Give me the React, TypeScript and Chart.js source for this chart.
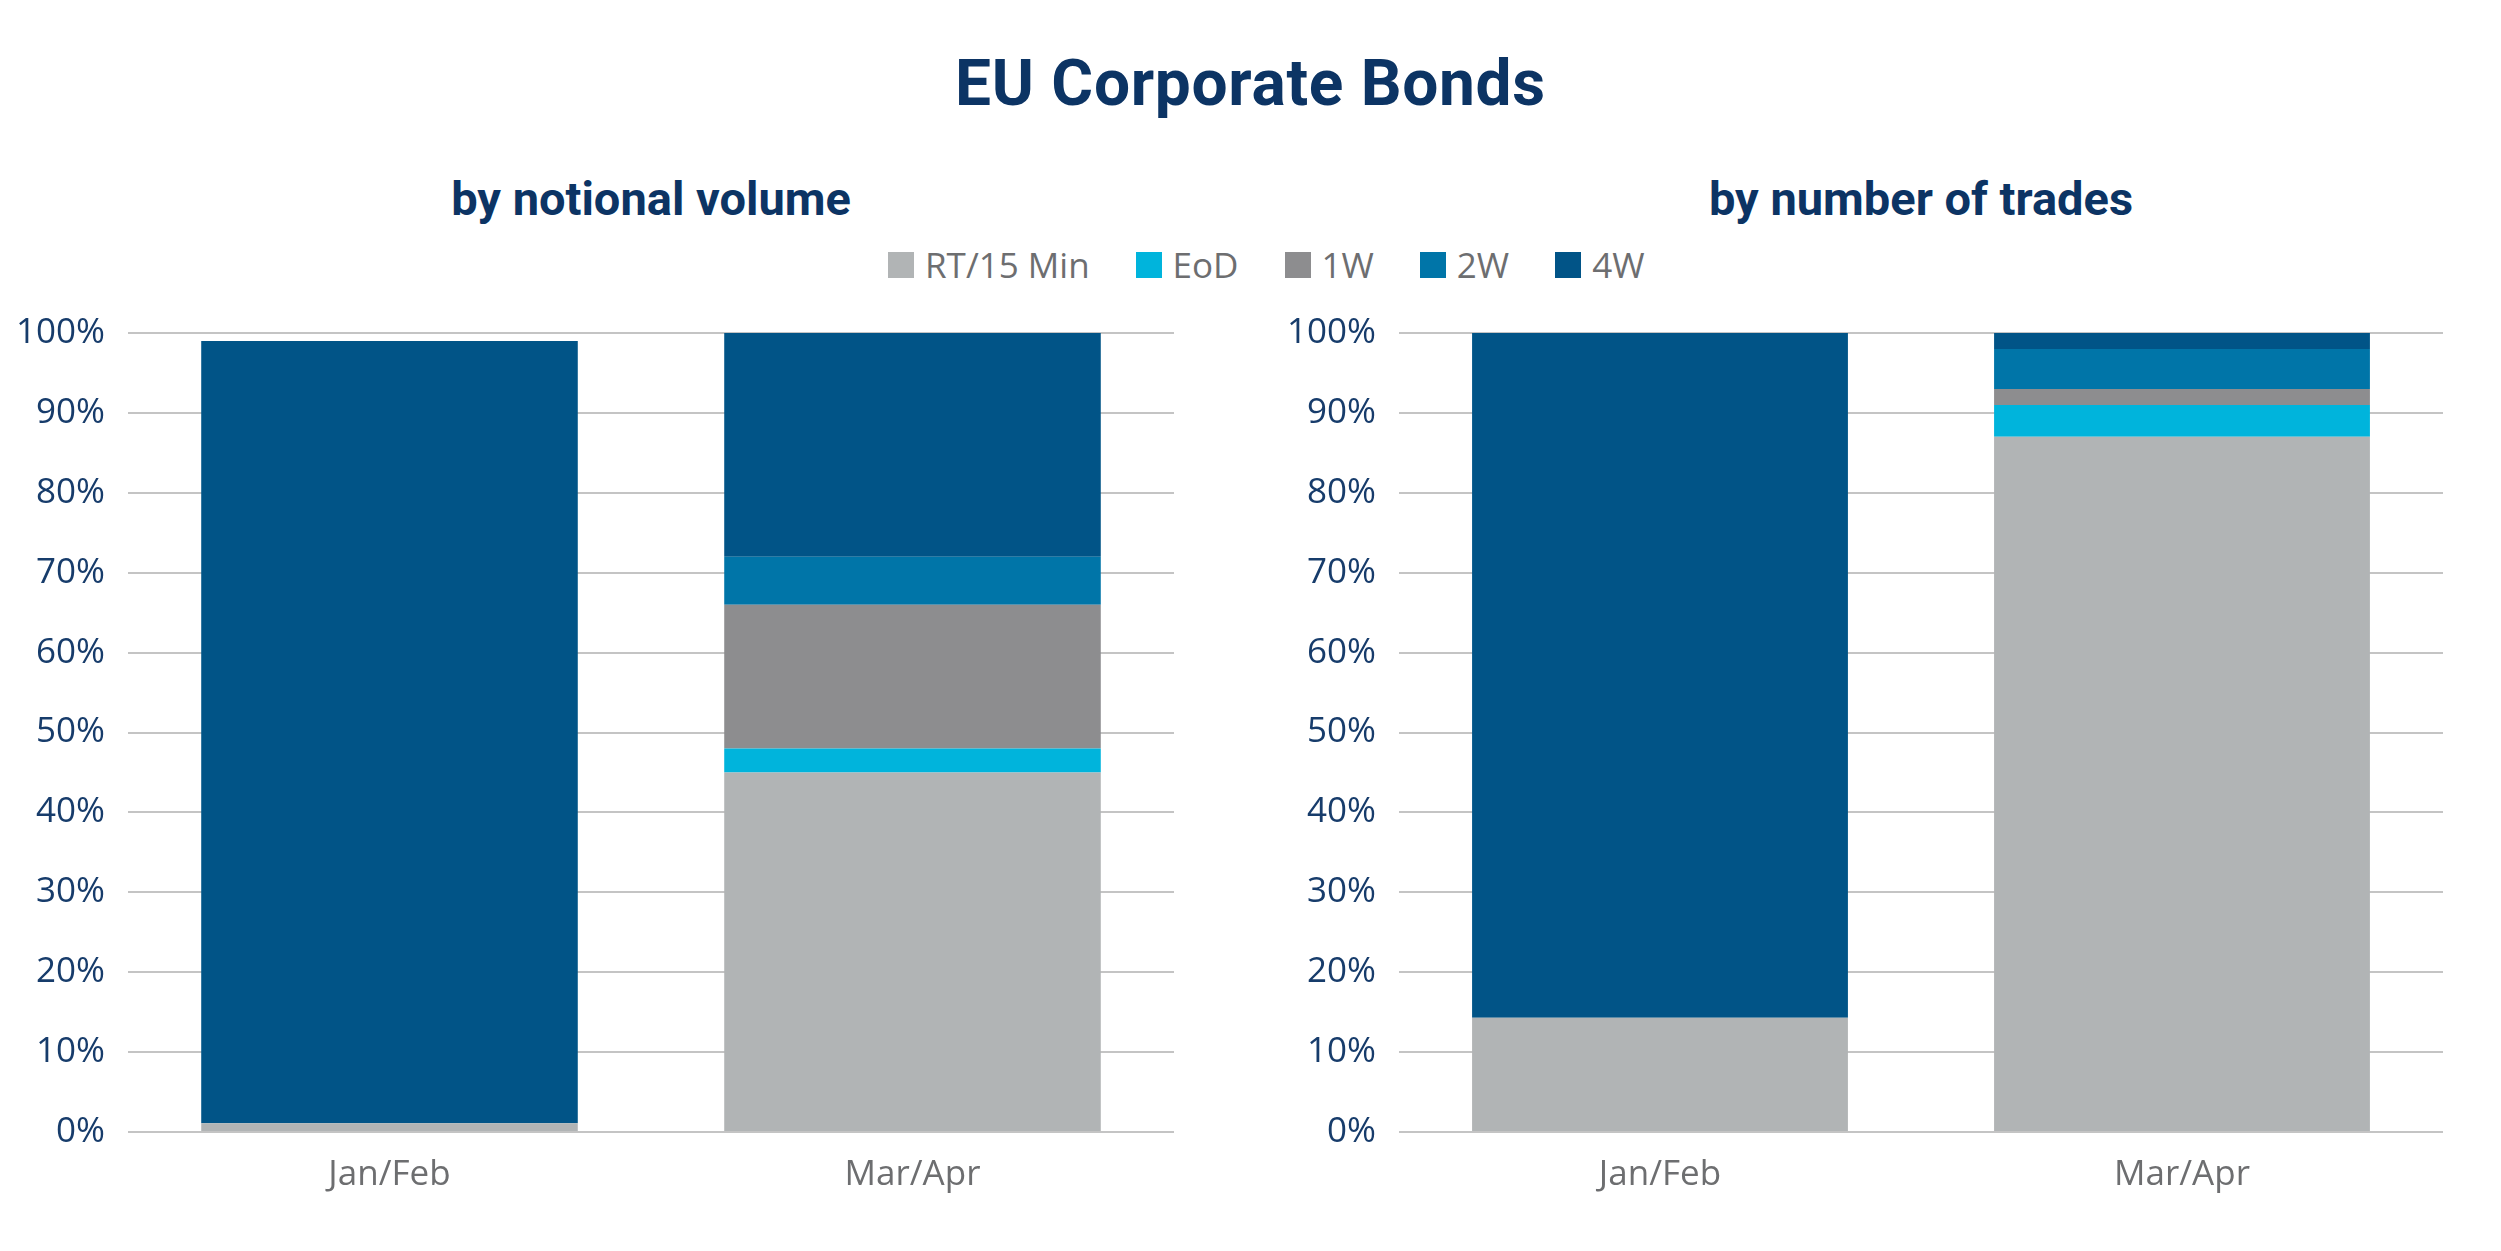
import React, { useEffect, useRef } from 'react';
import { Chart, registerables } from 'chart.js';

Chart.register(...registerables);

// Categories and series
const categories = ['Jan/Feb', 'Mar/Apr'];
const seriesNames = ['RT/15 Min', 'EoD', '1W', '2W', '4W'];
const seriesColors = ['#b1b4b5', '#00b4dc', '#8d8d8f', '#0075a8', '#015487'];

// Share of notional volume (%), per category
const volumeRT = [1.1, 45];
const volumeEoD = [0, 3];
const volume1W = [0, 18];
const volume2W = [0, 6];
const volume4W = [97.9, 28];

// Share of number of trades (%), per category
const tradesRT = [14.3, 87];
const tradesEoD = [0, 4];
const trades1W = [0, 2];
const trades2W = [0, 5];
const trades4W = [85.7, 2];

// Y axis ticks (%)
const yMin = 0;
const yMax = 100;
const yStep = 10;

const NAVY = '#0c3464';
const TICK_NAVY = '#173c6b';
const GREY_TEXT = '#6d6e70';

type PanelProps = {
  values: number[][];
  axisWidth: number;
  rightPad: number;
  width: number;
  height: number;
  left: number;
  top: number;
};

function StackedPanel({ values, axisWidth, rightPad, width, height, left, top }: PanelProps) {
  const ref = useRef<HTMLCanvasElement | null>(null);

  useEffect(() => {
    if (!ref.current) return;
    const chart = new Chart(ref.current, {
      type: 'bar',
      data: {
        labels: categories,
        datasets: seriesNames.map((name, i) => ({
          label: name,
          data: values[i],
          backgroundColor: seriesColors[i],
          borderWidth: 0,
          categoryPercentage: 1,
          barPercentage: 0.72,
        })),
      },
      options: {
        animation: false,
        responsive: false,
        maintainAspectRatio: false,
        devicePixelRatio: 1,
        layout: { padding: { top: 0, right: rightPad, bottom: 0, left: 0 } },
        plugins: {
          legend: { display: false },
          tooltip: { enabled: false },
          title: { display: false },
        },
        scales: {
          x: {
            stacked: true,
            grid: { display: false, drawTicks: false },
            border: { display: false },
            ticks: {
              color: GREY_TEXT,
              font: { family: 'Open Sans', size: 35 },
              padding: 22,
            },
            afterFit: (s: any) => {
              s.height = 119;
            },
          },
          y: {
            stacked: true,
            min: yMin,
            max: yMax,
            ticks: {
              stepSize: yStep,
              callback: (v: any) => `${v}%`,
              color: TICK_NAVY,
              font: { family: 'Open Sans', size: 35 },
              padding: 23,
            },
            grid: { color: '#c4c4c4', lineWidth: 2, drawTicks: false },
            border: { display: false },
            afterFit: (s: any) => {
              s.width = axisWidth;
            },
          },
        },
      },
    });
    return () => chart.destroy();
  }, []);

  return (
    <canvas
      ref={ref}
      width={width}
      height={height}
      style={{ position: 'absolute', left, top, width, height }}
    />
  );
}

export default function App() {
  const subtitleStyle: React.CSSProperties = {
    position: 'absolute',
    top: 175,
    fontFamily: 'Roboto, sans-serif',
    fontWeight: 700,
    fontSize: 47,
    lineHeight: '47px',
    color: NAVY,
    textAlign: 'center',
    whiteSpace: 'nowrap',
  };

  return (
    <div
      style={{
        position: 'fixed',
        left: 0,
        top: 0,
        width: 2501,
        height: 1251,
        background: '#ffffff',
        overflow: 'hidden',
      }}
    >
      <div
        style={{
          position: 'absolute',
          left: 0,
          top: 52,
          width: 2501,
          textAlign: 'center',
          fontFamily: 'Roboto, sans-serif',
          fontWeight: 700,
          fontSize: 64,
          lineHeight: '64px',
          letterSpacing: '0.7px',
          color: NAVY,
          whiteSpace: 'nowrap',
        }}
      >
        EU Corporate Bonds
      </div>

      <div style={{ ...subtitleStyle, left: 128, width: 1046 }}>by notional volume</div>
      <div style={{ ...subtitleStyle, left: 1399, width: 1044 }}>by number of trades</div>

      <div
        style={{
          position: 'absolute',
          left: 888,
          top: 247,
          display: 'flex',
          alignItems: 'center',
          height: 35,
        }}
      >
        {seriesNames.map((name, i) => (
          <div key={name} style={{ display: 'flex', alignItems: 'center', marginRight: 46 }}>
            <span
              style={{
                display: 'inline-block',
                width: 26,
                height: 26,
                background: seriesColors[i],
                marginRight: 11,
              }}
            />
            <span
              style={{
                fontFamily: '"Open Sans", sans-serif',
                fontSize: 35,
                lineHeight: '35px',
                color: GREY_TEXT,
                whiteSpace: 'nowrap',
              }}
            >
              {name}
            </span>
          </div>
        ))}
      </div>

      <StackedPanel
        values={[volumeRT, volumeEoD, volume1W, volume2W, volume4W]}
        axisWidth={128}
        rightPad={26}
        width={1200}
        height={962}
        left={0}
        top={289}
      />
      <StackedPanel
        values={[tradesRT, tradesEoD, trades1W, trades2W, trades4W]}
        axisWidth={139}
        rightPad={58}
        width={1241}
        height={962}
        left={1260}
        top={289}
      />
    </div>
  );
}
